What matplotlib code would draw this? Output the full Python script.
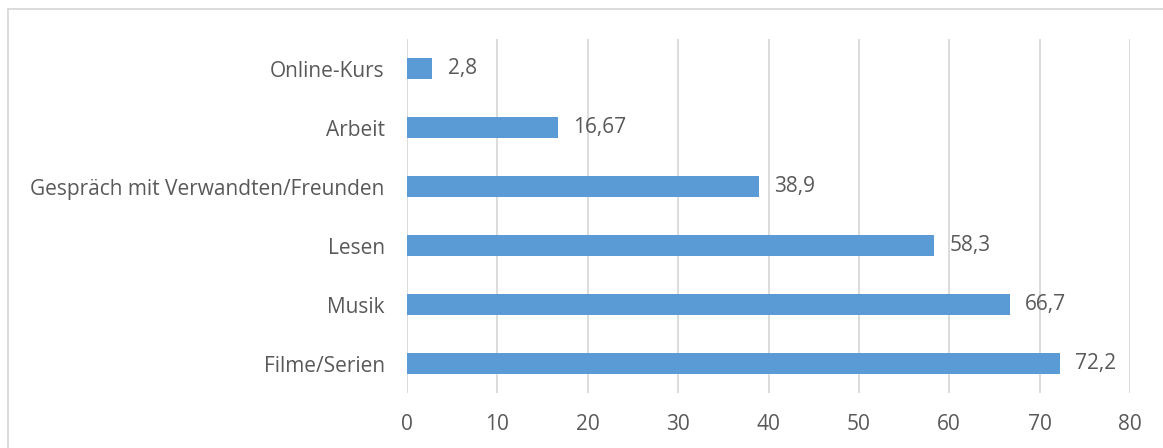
import matplotlib
matplotlib.use('Agg')
from matplotlib import pyplot as plt
from matplotlib.lines import Line2D

categories = ['Filme/Serien', 'Musik', 'Lesen', 'Gespräch mit Verwandten/Freunden', 'Arbeit', 'Online-Kurs']
values = [72.2, 66.7, 58.3, 38.9, 16.67, 2.8]
value_labels = ['72,2', '66,7', '58,3', '38,9', '16,67', '2,8']
x_ticks = [0, 10, 20, 30, 40, 50, 60, 70, 80]

text_color = '#595959'
bar_color = '#5B9BD5'
grid_color = '#D9D9D9'

plt.rcParams.update({'font.family': ['Open Sans', 'DejaVu Sans'], 'font.size': 15})

fig = plt.figure(figsize=(11.63, 4.48), dpi=100)
ax = fig.add_axes([407 / 1163, 1 - 393 / 448, (1130 - 407) / 1163, (393 - 39) / 448])

y_pos = range(len(categories))
bars = ax.barh(y_pos, values, height=0.34, color=bar_color, zorder=3)

ax.set_xlim(0, 80)
ax.set_ylim(-0.5, len(categories) - 0.5)
ax.set_xticks(x_ticks)
ax.set_xticklabels([str(t) for t in x_ticks], color=text_color)
ax.set_yticks(list(y_pos))
ax.set_yticklabels(categories, color=text_color)
ax.tick_params(axis='both', length=0)
ax.tick_params(axis='y', pad=16)
ax.tick_params(axis='x', pad=15)

ax.grid(axis='x', color=grid_color, linewidth=1.3, zorder=0)
for spine in ax.spines.values():
    spine.set_visible(False)

for rect, label in zip(bars, value_labels):
    ax.annotate(label, xy=(rect.get_width(), rect.get_y() + rect.get_height() / 2),
                xytext=(11, 0), textcoords='offset points', va='center', ha='left',
                color=text_color, fontsize=15)

# outer chart border (only top and left visible in the crop)
fig.add_artist(Line2D([8 / 1163, 8 / 1163], [0, 1 - 9 / 448], transform=fig.transFigure,
                      color=grid_color, linewidth=1.3))
fig.add_artist(Line2D([8 / 1163, 1], [1 - 9 / 448, 1 - 9 / 448], transform=fig.transFigure,
                      color=grid_color, linewidth=1.3))

fig.savefig('out.png', dpi=100, facecolor='white')
